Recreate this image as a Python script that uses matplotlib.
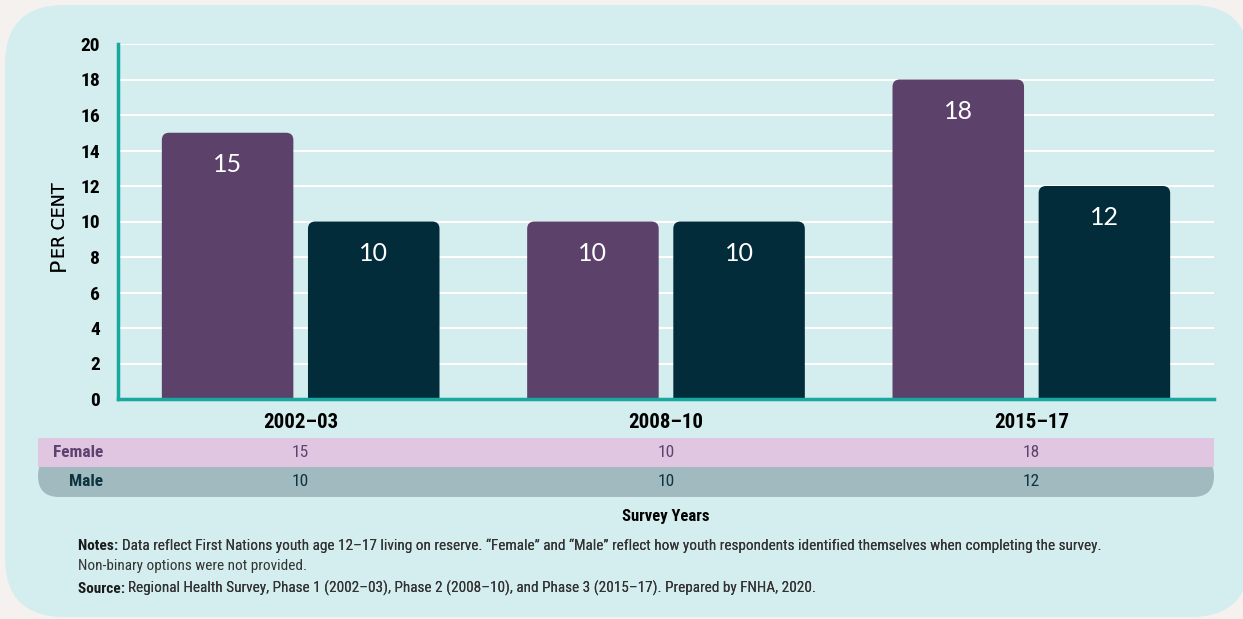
import matplotlib
matplotlib.use('Agg')
import matplotlib.pyplot as plt
from matplotlib import font_manager as fm
from matplotlib.patches import FancyBboxPatch, Rectangle
import numpy as np

# data
periods = ['2002\u201303', '2008\u201310', '2015\u201317']
female = [15, 10, 18]
male = [10, 10, 12]
yticks = [0, 2, 4, 6, 8, 10, 12, 14, 16, 18, 20]
notes_line1 = ('Data reflect First Nations youth age 12\u201317 living on reserve. '
               '\u201cFemale\u201d and \u201cMale\u201d reflect how youth respondents '
               'identified themselves when completing the survey.')
notes_line2 = 'Non-binary options were not provided.'
source_text = ('Regional Health Survey, Phase 1 (2002\u201303), Phase 2 (2008\u201310), '
               'and Phase 3 (2015\u201317). Prepared by FNHA, 2020.')

# colours
BG = '#F5F1EE'
PANEL = '#D4EDEE'
FEM = '#5C416B'
MAL = '#022C3A'
TEAL = '#19A89D'
FEM_ROW = '#E0C6E0'
MAL_ROW = '#A0BABF'
FEM_TXT = '#5E4370'
MAL_TXT = '#0E3440'

names = {f.name for f in fm.fontManager.ttflist}
COND = 'Roboto'
for cand in ['Liberation Sans Narrow', 'Roboto Condensed', 'DejaVu Sans Condensed']:
    if cand in names:
        COND = cand
        break
ROUND = 'Lato'

W, H = 1243, 619
fig = plt.figure(figsize=(W / 100, H / 100), dpi=100)
fig.patch.set_facecolor(BG)


def fx(px):
    return px / W


def fy(py):
    return 1 - py / H


# panel
panel = FancyBboxPatch((fx(5), fy(617)), fx(1250) - fx(5), fy(5) - fy(617),
                       boxstyle='round,pad=0,rounding_size=0.048',
                       mutation_aspect=W / H,
                       transform=fig.transFigure, facecolor=PANEL,
                       edgecolor='none', zorder=-10)
fig.patches.append(panel)

ax = fig.add_axes([fx(118), fy(399), fx(1214) - fx(118), fy(44) - fy(399)])
ax.set_facecolor('none')

x = np.arange(len(periods))
bw = 0.36
off = 0.2
bars_f = ax.bar(x - off, female, bw, color=FEM, zorder=3)
bars_m = ax.bar(x + off, male, bw, color=MAL, zorder=3)

# round top corners of bars (data aspect: 20 units / 355 px vs 3 units / 1096 px)
asp = (20 / 355) / (3 / 1096)
for bars in (bars_f, bars_m):
    for b in bars:
        b.set_visible(False)
        r = FancyBboxPatch((b.get_x(), -1.0), b.get_width(), b.get_height() + 1.0,
                           boxstyle='round,pad=0,rounding_size=0.02',
                           mutation_aspect=asp,
                           facecolor=b.get_facecolor(), edgecolor='none',
                           zorder=3, clip_on=True)
        ax.add_patch(r)

for i in range(len(periods)):
    ax.text(x[i] - off, female[i] - 1.8, str(female[i]), color='white',
            ha='center', va='center', fontsize=18, family=ROUND, zorder=4)
    ax.text(x[i] + off, male[i] - 1.8, str(male[i]), color='white',
            ha='center', va='center', fontsize=18, family=ROUND, zorder=4)

ax.set_xlim(-0.5, 2.5)
ax.set_ylim(0, 20)
ax.set_yticks(yticks)
ax.set_yticklabels([str(v) for v in yticks], fontsize=14, fontweight='bold',
                   family=COND)
ax.set_xticks(x)
ax.set_xticklabels(periods, fontsize=15, fontweight='bold', family=COND)
ax.tick_params(length=0)
ax.tick_params(axis='y', pad=13)
ax.tick_params(axis='x', pad=10)
ax.grid(axis='y', color='white', linewidth=1.5, zorder=1)
ax.set_axisbelow(True)
for s in ['top', 'right']:
    ax.spines[s].set_visible(False)
for s in ['left', 'bottom']:
    ax.spines[s].set_color(TEAL)
    ax.spines[s].set_linewidth(2.5)
    ax.spines[s].set_zorder(5)

# y label in small caps
p = fig.text(fx(69), fy(271), 'P', rotation=90, ha='right', va='bottom',
             fontsize=16, family='DejaVu Sans', color='black')
fig.texts.append(ax.annotate('ER CENT', xy=(1, 1), xycoords=p, ha='right',
                             va='bottom', rotation=90, fontsize=12.5,
                             family='DejaVu Sans', color='black',
                             annotation_clip=False))

# table rows
male_row = FancyBboxPatch((fx(38), fy(497)), fx(1214) - fx(38), fy(455) - fy(497),
                          boxstyle='round,pad=0,rounding_size=0.017',
                          mutation_aspect=W / H,
                          transform=fig.transFigure, facecolor=MAL_ROW,
                          edgecolor='none', zorder=1)
fig.patches.append(male_row)
fig.patches.append(Rectangle((fx(38), fy(467)), fx(1214) - fx(38), fy(438) - fy(467),
                             transform=fig.transFigure, facecolor=FEM_ROW,
                             edgecolor='none', zorder=2))

fig.text(fx(103), fy(452.5), 'Female', ha='right', va='center', fontsize=12.5,
         fontweight='bold', family=COND, color=FEM_TXT)
fig.text(fx(103), fy(482), 'Male', ha='right', va='center', fontsize=12.5,
         fontweight='bold', family=COND, color=MAL_TXT)
for i in range(len(periods)):
    xd = ax.transData.transform((x[i], 0))[0]
    xf = fig.transFigure.inverted().transform((xd, 0))[0]
    fig.text(xf, fy(452.5), str(female[i]), ha='center', va='center',
             fontsize=12.5, family=COND, color=FEM_TXT)
    fig.text(xf, fy(482), str(male[i]), ha='center', va='center',
             fontsize=12.5, family=COND, color=MAL_TXT)

fig.text(fx(666), fy(516), 'Survey Years', ha='center', va='center',
         fontsize=12, fontweight='bold', family=COND, color='black')


# notes and source
def label_line(xp, yp, head, body):
    t = fig.text(fx(xp), fy(yp), head + ' ', ha='left', va='center', fontsize=11,
                 fontweight='bold', family=COND, color='#1a1a1a')
    fig.texts.append(ax.annotate(body, xy=(1, 0), xycoords=t, ha='left',
                                 va='bottom', fontsize=11, family=COND,
                                 color='#333333', annotation_clip=False))


label_line(78, 546, 'Notes:', notes_line1)
fig.text(fx(78), fy(566), notes_line2, ha='left', va='center', fontsize=11,
         family=COND, color='#333333')
label_line(78, 589, 'Source:', source_text)

fig.savefig('out.png', dpi=100, facecolor=fig.get_facecolor())
